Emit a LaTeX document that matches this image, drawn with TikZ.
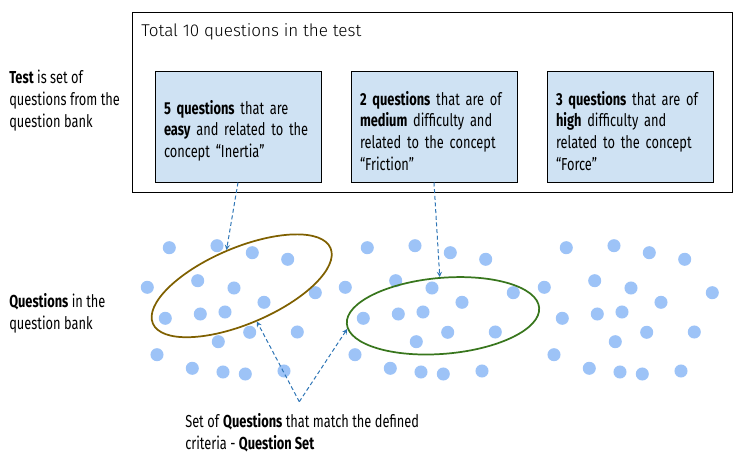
\documentclass[tikz,border=0pt]{standalone}
\usepackage{fontspec}
\setmainfont{Fira Sans}[FakeStretch=0.74]
\newfontfamily\titlefont{Fira Sans Light}
\usetikzlibrary{positioning,shapes.geometric}
\definecolor{boxblue}{RGB}{207,226,243}
\definecolor{dotblue}{RGB}{157,195,247}
\definecolor{easybrown}{RGB}{127,96,0}
\definecolor{mediumgreen}{RGB}{56,118,29}
\definecolor{linkblue}{RGB}{46,117,182}
\tikzset{
  qbox/.style={draw, fill=boxblue, line width=.75pt, minimum width=124.5pt, minimum height=83.25pt, text width=111pt, inner sep=6.75pt, align=left, font=\fontsize{13}{16.3}\selectfont, execute at begin node=\rule{0pt}{17pt}},
  note/.style={inner sep=0pt, align=left, font=\fontsize{13}{16.5}\selectfont},
  qset/.style={draw, ellipse, line width=1.3pt, minimum width=144.75pt, minimum height=57pt, inner sep=0pt},
  qdot/.style={fill=dotblue},
  link/.style={->, linkblue, line width=.75pt, dash pattern=on 3pt off 2pt}
}
\begin{document}
\begin{tikzpicture}[>=stealth, x=.75pt, y=-.75pt]
\useasboundingbox (0,0) rectangle (744,458);
\node[draw, line width=.75pt, minimum width=450pt, minimum height=135pt, inner sep=0pt] (test) at (432,102) {};
\node[anchor=west, inner sep=0pt, font=\titlefont\fontsize{12.8}{15}\selectfont] (total) at (141,32) {Total 10 questions in the test};
\node[qbox] (easy) at (238,126.5) {\textbf{5 questions} that are\\\textbf{easy} and related to the\\concept “Inertia”};
\node[qbox, right=21.75pt of easy] (medium) {\textbf{2 questions} that are of\\\textbf{medium} difficulty and\\related to the concept\\“Friction”};
\node[qbox, right=21.75pt of medium] (high) {\textbf{3 questions} that are of\\\textbf{high} difficulty and\\related to the concept\\“Force”};
\node[note, anchor=west] (testnote) at (9,101) {\textbf{Test} is set of\\questions from the\\question bank};
\node[note, anchor=west] (banknote) at (9,313.5) {\textbf{Questions} in the\\question bank};
\foreach \dx in {0,198,397}
  \foreach \x/\y in {169.3/247.7, 217/245.7, 252.3/252.7, 287.7/259.3, 147.3/287.3, 197.7/280.7, 234/288, 315.3/292.7, 264/302.3, 165.3/318.3, 200.3/314, 225/312, 249.7/332.3, 297.3/332, 218.3/341.7, 157/354.7, 192.3/368.3, 223/372, 245.3/374, 284/371}
    \fill[qdot] (\x+\dx,\y) circle[radius=4.9pt];
\node[qset, easybrown, rotate=23] (easyset) at (241.7,285.8) {};
\node[qset, mediumgreen, rotate=4.8] (mediumset) at (443,315.8) {};
\draw[link] (easy.south) -- (easyset.north);
\draw[link] (medium.south) -- (mediumset.north);
\coordinate (apex) at (299.3,401.7);
\draw[link] (apex) -- (easyset.south);
\draw[link] (apex) -- (mediumset.183);
\node[note, anchor=west] (setnote) at (185,433) {Set of \textbf{Questions} that match the defined\\criteria - \textbf{Question Set}};
\end{tikzpicture}
\end{document}
